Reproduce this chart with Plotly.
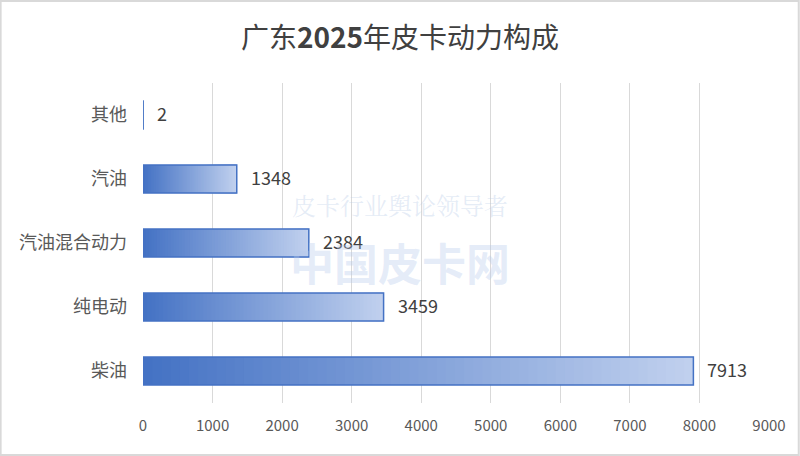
import plotly.graph_objects as go

categories = ["柴油", "纯电动", "汽油混合动力", "汽油", "其他"]
values = [7913, 3459, 2384, 1348, 2]
x_ticks = [0, 1000, 2000, 3000, 4000, 5000, 6000, 7000, 8000, 9000]
title_text = "广东<b>2025</b>年皮卡动力构成"
watermark_small = "皮卡行业舆论领导者"
watermark_big = "中国皮卡网"

W, H = 800, 456
ML, MR, MT, MB = 143, 31, 83, 53
PW, PH = W - ML - MR, H - MT - MB

c0 = (68, 114, 196)
c1 = (192, 208, 238)
N = 60
BAR_W = 0.44

fig = go.Figure()
for i in range(N):
    t = i / (N - 1)
    col = tuple(round(c0[k] + (c1[k] - c0[k]) * t) for k in range(3))
    fig.add_trace(go.Bar(
        y=categories,
        x=[v * (1 - i / N) for v in values],
        base=[v * i / N for v in values],
        orientation="h",
        width=BAR_W,
        marker=dict(color="rgb(%d,%d,%d)" % col, line=dict(width=0)),
        hoverinfo="skip",
        showlegend=False,
    ))
fig.add_trace(go.Bar(
    y=categories,
    x=values,
    orientation="h",
    width=BAR_W,
    marker=dict(color="rgba(0,0,0,0)", line=dict(color="#4472c4", width=1.5)),
    showlegend=False,
))

for c, v in zip(categories, values):
    fig.add_annotation(
        x=v, y=c, text=str(v), showarrow=False, xanchor="left", xshift=12, yshift=2,
        font=dict(size=18, color="#404040", family="Noto Sans CJK SC"),
    )

fig.add_annotation(
    xref="paper", yref="paper", x=(400 - ML) / PW, y=1 - (204 - MT) / PH,
    text=watermark_small, showarrow=False,
    font=dict(size=24, color="rgba(180,200,230,0.35)", family="Noto Serif CJK SC, Noto Sans CJK SC"),
)
fig.add_annotation(
    xref="paper", yref="paper", x=(400 - ML) / PW, y=1 - (262 - MT) / PH,
    text="<b>" + watermark_big + "</b>", showarrow=False,
    font=dict(size=44, color="rgba(180,200,235,0.35)", family="Noto Sans CJK SC"),
)

fig.add_shape(
    type="rect", xref="paper", yref="paper",
    x0=-ML / PW + 0.001, x1=1 + MR / PW - 0.002,
    y0=-MB / PH + 0.003, y1=1 + MT / PH - 0.003,
    line=dict(color="#d9d9d9", width=2), fillcolor="rgba(0,0,0,0)",
)

fig.update_layout(
    width=W, height=H,
    margin=dict(l=ML, r=MR, t=MT, b=MB),
    barmode="overlay",
    paper_bgcolor="white", plot_bgcolor="white",
    title=dict(text=title_text, x=(400 - ML) / PW, xref="paper", xanchor="center",
               y=1 - 38 / H, yanchor="middle", yref="container",
               font=dict(size=28, color="#404040", family="Noto Sans CJK SC")),
    font=dict(family="Noto Sans CJK SC", color="#595959"),
)
fig.update_xaxes(
    range=[0, 9000], tickvals=x_ticks, ticktext=[str(t) for t in x_ticks],
    showgrid=True, gridcolor="#d9d9d9", gridwidth=1, zeroline=False,
    showline=False, ticks="", tickfont=dict(size=15, color="#595959",
                                            family="Liberation Sans Narrow, Noto Sans CJK SC"),
    ticklabelstandoff=12,
)
fig.update_yaxes(
    categoryorder="array", categoryarray=categories, range=[-0.5, 4.5],
    showgrid=False, zeroline=False, showline=False, ticks="",
    tickfont=dict(size=18, color="#595959"), ticklabelstandoff=15,
)

fig.write_html("out.html", config={"displayModeBar": False},
               post_script="document.body.style.margin='0';document.body.style.overflow='hidden';")
